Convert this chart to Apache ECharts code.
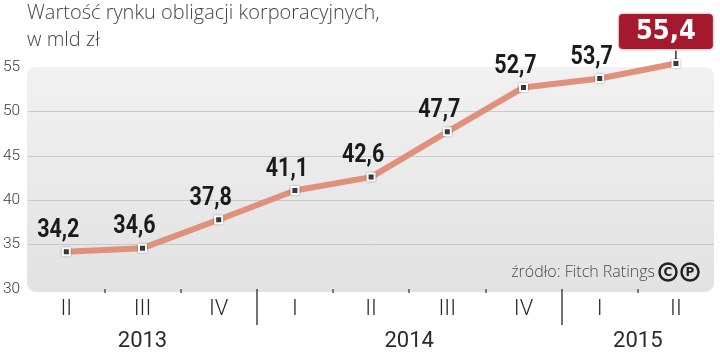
<!DOCTYPE html>
<html><head><meta charset="utf-8">
<script src="https://cdn.jsdelivr.net/npm/echarts@6/dist/echarts.min.js"></script>
<style>html,body{margin:0;padding:0;background:#fff}#c{width:720px;height:352px}</style>
</head><body><div id="c"></div>
<script>
const quarters = ['II','III','IV','I','II','III','IV','I','II'];
const values = [34.2, 34.6, 37.8, 41.1, 42.6, 47.7, 52.7, 53.7, 55.4];
const years = ['2013','2014','2015'];
const quartersPerYear = [3, 4, 2];
const yMin = 30, yMax = 55, yStep = 5;
const titleLines = ['Wartość rynku obligacji korporacyjnych,', 'w mld zł'];
const sourceText = 'źródło: Fitch Ratings';

// derived positions (in category units)
const yearCenters = [], yearBounds = [];
let acc = 0;
quartersPerYear.forEach((n, i) => {
  yearCenters.push(acc + (n - 1) / 2);
  acc += n;
  if (i < quartersPerYear.length - 1) yearBounds.push(acc - 0.5);
});
const minorTicks = [];
for (let i = 0; i < quarters.length - 1; i++) {
  const b = i + 0.5;
  if (!yearBounds.includes(b)) minorTicks.push(b);
}
const fmt = v => String(v).replace('.', ',');

const GL = 27, GR = 6, GT = 67, GB = 60;
const W = 720, H = 352;

const chart = echarts.init(document.getElementById('c'), null, {renderer: 'canvas'});
const last = values.length - 1;

const option = {
  animation: false,
  backgroundColor: '#ffffff',
  grid: {left: GL, right: GR, top: GT, bottom: GB, containLabel: false},
  xAxis: [
    {
      type: 'category', data: quarters, boundaryGap: true,
      axisLine: {show: false}, axisTick: {show: false}, splitLine: {show: false},
      axisLabel: {color: '#2b2b2b', fontSize: 22, fontFamily: 'Roboto', fontWeight: 300, margin: 9, interval: 0}
    },
    {
      type: 'value', min: -0.5, max: quarters.length - 0.5, position: 'bottom',
      axisLine: {show: false}, splitLine: {show: false},
      axisLabel: {show: false},
      axisTick: {show: true, customValues: minorTicks, length: 4, lineStyle: {color: '#555', width: 1.5}}
    },
    {
      type: 'value', min: -0.5, max: quarters.length - 0.5, position: 'bottom',
      axisLine: {show: false}, splitLine: {show: false},
      axisLabel: {
        show: true, customValues: yearCenters,
        formatter: v => { const k = yearCenters.findIndex(c => Math.abs(c - v) < 1e-6); return k >= 0 ? years[k] : ''; },
        color: '#2b2b2b', fontSize: 22, fontFamily: 'Roboto', fontWeight: 400, margin: 41
      },
      axisTick: {show: true, customValues: yearBounds, length: 36, lineStyle: {color: '#444', width: 1.5}}
    }
  ],
  yAxis: {
    type: 'value', min: yMin, max: yMax, interval: yStep,
    axisLine: {show: false}, axisTick: {show: false},
    axisLabel: {color: '#3a3a3a', fontSize: 15.5, fontFamily: 'Roboto', fontWeight: 300, margin: 8, align: 'right'},
    splitLine: {show: true, lineStyle: {color: ['rgba(0,0,0,0)', '#c9c9c9', '#c9c9c9', '#c9c9c9', '#c9c9c9', 'rgba(0,0,0,0)'], width: 1}}
  },
  series: [{
    type: 'line', xAxisIndex: 0, yAxisIndex: 0, clip: false,
    data: values.map((v, i) => i === last ? {
      value: v,
      label: {
        show: true, position: 'top',
        distance: 10, offset: [-10, 0],
        backgroundColor: '#a5192e', borderColor: '#e3d5d7', borderWidth: 1.5, borderRadius: 4,
        padding: [5, 17, 3, 17], color: '#ffffff', fontSize: 27,
        fontFamily: "'DejaVu Sans Condensed','Liberation Sans',sans-serif", fontWeight: 'bold',
        formatter: p => fmt(p.value)
      }
    } : v),
    symbol: 'rect', symbolSize: 7,
    lineStyle: {color: '#e0917c', width: 6},
    itemStyle: {color: '#3b3b3b', borderColor: '#ffffff', borderWidth: 2, shadowColor: 'rgba(0,0,0,0.35)', shadowBlur: 2},
    label: {show: false},
    z: 3
  }, {
    type: 'custom', xAxisIndex: 0, yAxisIndex: 0, clip: false, z: 4,
    data: values.slice(0, last).map((v, i) => [i, v]),
    encode: {x: 0, y: 1},
    renderItem: (params, api) => {
      const pt = api.coord([api.value(0), api.value(1)]);
      return {
        type: 'text', x: pt[0] - 8, y: pt[1] - 21, scaleX: 0.86,
        style: {text: fmt(api.value(1)), font: 'bold 25px Roboto', fill: '#1b1b1b', align: 'center', verticalAlign: 'middle'}
      };
    }
  }],
  graphic: []
};
chart.setOption(option);

const p = chart.convertToPixel({xAxisIndex: 0, yAxisIndex: 0}, [last, values[last]]);
chart.setOption({
  graphic: [
    {type: 'rect', z: -10, silent: true,
     shape: {x: GL, y: GT, width: W - GL - GR, height: H - GT - GB, r: 9},
     style: {fill: new echarts.graphic.LinearGradient(0, 0, 0, 1, [{offset: 0, color: '#f1f1f1'}, {offset: 1, color: '#e2e2e2'}])}},
    {type: 'line', z: 1, silent: true,
     shape: {x1: p[0], y1: p[1] - 4, x2: p[0], y2: p[1] - 13},
     style: {stroke: '#333', lineWidth: 1.5}},
    {type: 'text', left: 27, top: 0, silent: true,
     style: {text: titleLines.join('\n'), fill: '#444', font: '300 20px "Open Sans"', lineHeight: 27}},
    {type: 'text', silent: true, x: 655, y: 272,
     style: {text: sourceText, fill: '#4a4a4a', font: '300 16px "Open Sans"', align: 'right', verticalAlign: 'middle'}},
    {type: 'circle', silent: true, shape: {cx: 668, cy: 272, r: 8.5}, style: {fill: 'none', stroke: '#222', lineWidth: 2.5}},
    {type: 'circle', silent: true, shape: {cx: 690, cy: 272, r: 8.5}, style: {fill: 'none', stroke: '#222', lineWidth: 2.5}},
    {type: 'text', silent: true, x: 668, y: 272.5, style: {text: 'C', fill: '#222', font: 'bold 12px "DejaVu Sans"', align: 'center', verticalAlign: 'middle'}},
    {type: 'text', silent: true, x: 690, y: 272.5, style: {text: 'P', fill: '#222', font: 'bold 12px "DejaVu Sans"', align: 'center', verticalAlign: 'middle'}}
  ]
});
</script>
</body></html>
